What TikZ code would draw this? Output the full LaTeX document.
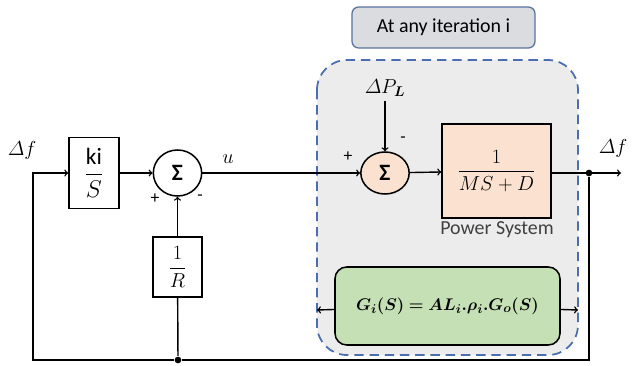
\documentclass[tikz,border=0pt]{standalone}
\usepackage{amsmath}
\usepackage{bm}
\usepackage{fontspec}
\setmainfont{Carlito}
\usetikzlibrary{shapes.geometric}
\definecolor{bordo}{RGB}{74,110,176}
\definecolor{grigio}{RGB}{236,236,236}
\definecolor{grigioscuro}{RGB}{218,220,224}
\definecolor{pesca}{RGB}{251,226,208}
\definecolor{verde}{RGB}{197,224,180}
\tikzset{
  blocco/.style={draw, line width=1.3pt, fill=white, inner sep=0pt},
  somma/.style={draw, ellipse, line width=1.3pt, fill=white, inner sep=0pt,
    minimum width=1.45cm, minimum height=1.38cm, font=\fontsize{20}{22}\selectfont},
  punto/.style={circle, fill=black, inner sep=0pt, minimum size=0.2cm},
  segno/.style={font=\fontsize{15}{17}\selectfont, inner sep=0pt},
  formula/.style={draw, fill=verde, line width=1.3pt, rounded corners=0.35cm,
    minimum width=6.75cm, minimum height=2.34cm, font=\fontsize{15}{18}\selectfont}
}
\begin{document}
\begin{tikzpicture}[x=0.03cm, y=-0.03cm, >=to, line width=1.2pt, font=\fontsize{17}{20}\selectfont]
        \useasboundingbox (0,0) rectangle (635,366);
        % Riquadri
        \draw [bordo, fill=grigio, line width=1.5pt, dash pattern=on 8pt off 5pt, rounded corners=0.9cm] (317,60) rectangle (578,355);
        \node [draw=bordo!70!gray, fill=grigioscuro, rounded corners=0.2cm, line width=1.1pt, minimum width=5.49cm, minimum height=1.23cm] (iter) at (443.5,27.5) {At any iteration i};
        % Blocchi
        \node [blocco, minimum width=1.5cm, minimum height=2.13cm, font=\fontsize{20}{24}\selectfont] (ki) at (94,173) {$\dfrac{\text{ki}}{S}$};
        \node [somma] (s1) at (177.5,173) {\textbf{Σ}};
        \node [blocco, minimum width=1.47cm, minimum height=1.8cm] (r) at (177.5,267) {$\dfrac{1}{R}$};
        \node [somma, fill=pesca, minimum height=1.26cm] (s2) at (385,173) {\textbf{Σ}};
        \node [blocco, fill=pesca, minimum width=3.27cm, minimum height=2.82cm] (ps) at (496.5,171) {$\dfrac{1}{MS+D}$};
        \node [text=black!75] (pslab) at (497,230) {Power System};
        \node [formula] (g) at (447.5,306) {$\bm{G_i(S) = AL_i.\rho_i.G_o(S)}$};
        % Etichette
        \node (df1) at (22,150) {$\varDelta f$};
        \node (df2) at (613,148) {$\varDelta f$};
        \node (u) at (228,159) {$u$};
        \node (dp) at (385,88) {$\varDelta P_{\bm{L}}$};
        \node [segno] (p1) at (155,199) {+};
        \node [segno] (m1) at (200,198) {-};
        \node [segno] (p2) at (348,157) {+};
        \node [segno] (m2) at (403,140) {-};
        % Punti
        \node [punto] (n1) at (589,173) {};
        \node [punto] (n2) at (178,360) {};
        \coordinate (out) at (621,173);
        \coordinate (rit) at (33,360);
        \coordinate (bsx) at (317,310);
        \coordinate (bdx) at (578,310);
        % Segnali
        \draw [->] (ki) -- (s1);
        \draw [->] (s1) -- (s2);
        \draw [->] (s2) -- (ps);
        \draw [->] (ps.east |- n1) -- (n1.center) -- (out);
        \draw (n1) |- (n2);
        \draw [->] (n2) -- (rit) |- (ki);
        \draw (n2) -- (r);
        \draw [->] (r) -- (s1);
        \draw [->] (dp) -- (s2);
        \draw [->] (g) -- (bsx);
        \draw [->] (g) -- (bdx);
\end{tikzpicture}
\end{document}
